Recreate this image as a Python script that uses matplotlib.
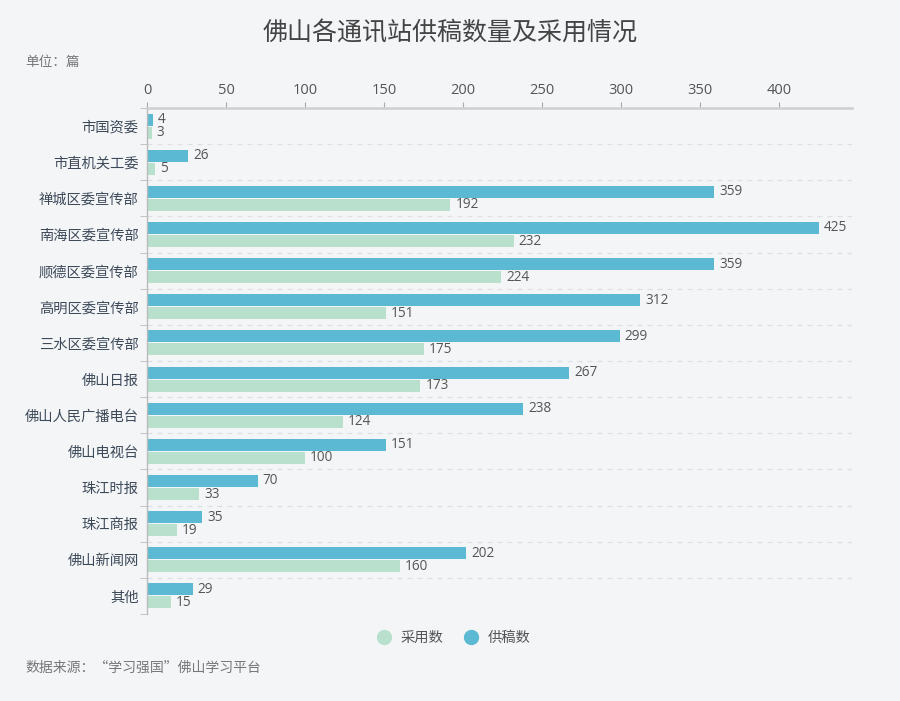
import matplotlib
matplotlib.use("Agg")
import matplotlib.pyplot as plt
import numpy as np
from matplotlib.lines import Line2D

plt.rcParams["font.family"] = ["Noto Sans CJK SC", "DejaVu Sans"]

categories = [
    "市国资委", "市直机关工委", "禅城区委宣传部", "南海区委宣传部", "顺德区委宣传部",
    "高明区委宣传部", "三水区委宣传部", "佛山日报", "佛山人民广播电台", "佛山电视台",
    "珠江时报", "珠江商报", "佛山新闻网", "其他",
]
supplied = [4, 26, 359, 425, 359, 312, 299, 267, 238, 151, 70, 35, 202, 29]
adopted = [3, 5, 192, 232, 224, 151, 175, 173, 124, 100, 33, 19, 160, 15]
x_ticks = [0, 50, 100, 150, 200, 250, 300, 350, 400]

BG = "#f3f5f7"
BLUE = "#5bb9d3"
GREEN = "#b8e0cd"
TEXT = "#555555"
NUM_FONT = ["Open Sans", "DejaVu Sans"]

fig = plt.figure(figsize=(9, 7.01), dpi=100, facecolor=BG)
ax = fig.add_axes([147 / 900, 1 - 614 / 701, (852 - 147) / 900, (614 - 108) / 701])
ax.set_facecolor(BG)

y = np.arange(len(categories))
h = 0.33
off = 0.18
ax.barh(y - off, supplied, height=h, color=BLUE, label="供稿数")
ax.barh(y + off, adopted, height=h, color=GREEN, label="采用数")

for yi, v in zip(y, supplied):
    ax.annotate(str(v), (v, yi - off), xytext=(3.5, 0), textcoords="offset points",
                va="center", ha="left", fontsize=9.8, color=TEXT, family=NUM_FONT)
for yi, v in zip(y, adopted):
    ax.annotate(str(v), (v, yi + off), xytext=(3.5, 0), textcoords="offset points",
                va="center", ha="left", fontsize=9.8, color=TEXT, family=NUM_FONT)

ax.set_xlim(0, 446)
ax.set_ylim(len(categories) - 0.5, -0.5)

# top x axis
ax.xaxis.tick_top()
ax.set_xticks(x_ticks)
ax.set_xticklabels([str(t) for t in x_ticks], family=NUM_FONT)
ax.tick_params(axis="x", colors="#aaaaaa", labelcolor=TEXT, labelsize=10.5, length=4, pad=3)

# y axis: labels at centers, ticks at boundaries
ax.set_yticks(y)
ax.set_yticklabels(categories, fontsize=10.3, color="#3e4a5a")
ax.tick_params(axis="y", length=0, pad=6)
ax.set_yticks(np.arange(len(categories) + 1) - 0.5, minor=True)
ax.tick_params(axis="y", which="minor", length=5, color="#bbbbbb")

for b in np.arange(1, len(categories)) - 0.5:
    ax.axhline(b, color="#dcdfe3", lw=0.9, ls=(0, (4, 4)), zorder=0)

for s in ["right", "bottom"]:
    ax.spines[s].set_visible(False)
ax.spines["top"].set_color("#cfcfd3")
ax.spines["top"].set_linewidth(1.8)
ax.spines["left"].set_color("#bbbbbb")
ax.spines["left"].set_linewidth(1.0)

fig.text(0.5, 1 - 33 / 701, "佛山各通讯站供稿数量及采用情况", ha="center", va="center",
         fontsize=18, color="#444444")
fig.text(25 / 900, 1 - 62 / 701, "单位：篇", ha="left", va="center", fontsize=9.8, color="#777777")
fig.text(25 / 900, 1 - 668 / 701, "数据来源：“学习强国”佛山学习平台", ha="left", va="center",
         fontsize=10, color="#777777")

handles = [
    Line2D([], [], marker="o", ls="none", markersize=10, color=GREEN, label="采用数"),
    Line2D([], [], marker="o", ls="none", markersize=10, color=BLUE, label="供稿数"),
]
fig.legend(handles=handles, loc="center", bbox_to_anchor=(450 / 900, 1 - 638 / 701), ncol=2,
           frameon=False, fontsize=10.3, labelcolor=TEXT, handletextpad=0.2, columnspacing=0.9)

fig.savefig("out.png", dpi=100, facecolor=BG)
